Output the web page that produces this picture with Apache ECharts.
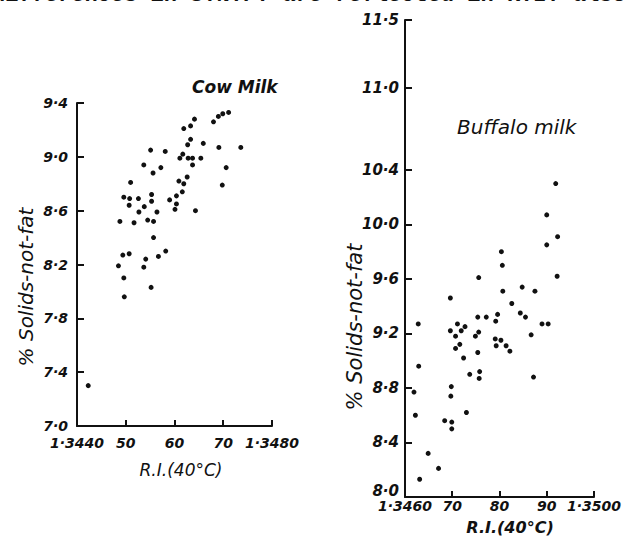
<!DOCTYPE html>
<html>
<head>
<meta charset="utf-8">
<script src="https://cdn.jsdelivr.net/npm/echarts@6/dist/echarts.min.js"></script>
<style>
html,body{margin:0;padding:0;background:#fff;}
#c{width:624px;height:537px;}
</style>
</head>
<body>
<div id="c"></div>
<script>
// ---- Cow milk data (R.I. at 40°C vs % solids-not-fat)
const cowRI = [1.34641,1.34633,1.34619,1.34680,1.34690,1.34699,1.34711,1.34633,1.34627,1.34659,
  1.34691,1.34736,1.34551,1.34581,1.34617,1.34611,1.34628,1.34637,1.34654,1.34637,
  1.34537,1.34572,1.34556,1.34626,1.34609,1.34619,1.34706,1.34698,1.34510,1.34496,
  1.34508,1.34526,1.34553,1.34616,1.34604,1.34590,1.34604,1.34601,1.34553,1.34538,
  1.34507,1.34527,1.34564,1.34643,1.34488,1.34517,1.34545,1.34557,1.34557,1.34494,
  1.34507,1.34582,1.34567,1.34541,1.34537,1.34485,1.34496,1.34552,1.34497,1.34423];
const cowSNF = [9.28,9.23,9.21,9.26,9.30,9.32,9.33,9.13,9.09,9.10,
  9.07,9.07,9.05,9.04,9.02,8.99,8.99,8.99,8.99,8.94,
  8.94,8.92,8.88,8.85,8.82,8.80,8.92,8.79,8.81,8.70,
  8.69,8.69,8.72,8.74,8.71,8.68,8.65,8.61,8.67,8.63,
  8.64,8.59,8.59,8.60,8.52,8.51,8.53,8.52,8.40,8.27,
  8.28,8.30,8.26,8.24,8.18,8.19,8.10,8.03,7.96,7.30];

// ---- Buffalo milk data
const bufRI = [1.34919,1.34900,1.34923,1.34900,1.34804,1.34806,1.34756,1.34922,1.34696,1.34807,
  1.34848,1.34875,1.34826,1.34844,1.34855,1.34796,1.34792,1.34754,1.34772,1.34890,
  1.34903,1.34628,1.34696,1.34711,1.34719,1.34727,1.34707,1.34749,1.34756,1.34867,
  1.34791,1.34803,1.34793,1.34814,1.34822,1.34716,1.34707,1.34724,1.34754,1.34758,
  1.34757,1.34737,1.34872,1.34629,1.34619,1.34698,1.34697,1.34622,1.34730,1.34684,
  1.34699,1.34699,1.34649,1.34671,1.34631];
const bufSNF = [10.30,10.07,9.91,9.85,9.80,9.70,9.61,9.62,9.46,9.51,
  9.54,9.51,9.42,9.35,9.32,9.34,9.29,9.32,9.32,9.27,
  9.27,9.27,9.22,9.27,9.22,9.25,9.18,9.18,9.21,9.19,
  9.16,9.15,9.11,9.11,9.07,9.12,9.09,9.02,9.06,8.92,
  8.87,8.90,8.88,8.96,8.77,8.81,8.74,8.60,8.62,8.56,
  8.55,8.50,8.32,8.21,8.13];

// ---- Tick values and labels
const cowXTicks = [1.344,1.345,1.346,1.347,1.348];
const cowXLabels = ['1·3440','50','60','70','1·3480'];
const cowYTicks = [7.0,7.4,7.8,8.2,8.6,9.0,9.4];
const cowYLabels = ['7·0','7·4','7·8','8·2','8·6','9·0','9·4'];
const bufXTicks = [1.346,1.347,1.348,1.349,1.350];
const bufXLabels = ['1·3460','70','80','90','1·3500'];
const bufYTicks = [8.0,8.4,8.8,9.2,9.6,10.0,10.4,11.0,11.5];
const bufYLabels = ['8·0','8·4','8·8','9·2','9·6','10·0','10·4','11·0','11·5'];

function fmt(ticks, labels, liftFirst){
  return function(v){
    for (let i=0;i<ticks.length;i++){
      if (Math.abs(v-ticks[i])<1e-7) return (i===0 && liftFirst) ? '{lo|'+labels[i]+'}' : labels[i];
    }
    return '';
  };
}
function zip(a,b){ return a.map((v,i)=>[v,b[i]]); }

const ink = '#111';
const axisFont = {fontFamily:'DejaVu Sans', fontStyle:'italic', fontWeight:'bold', color:ink};

function xAxisDef(idx, min, max, ticks, labels, margin, fs){
  return {
    type:'value', gridIndex:idx, min:min, max:max,
    axisLine:{show:true, onZero:false, lineStyle:{color:ink, width:2}},
    axisTick:{show:true, inside:true, length:6, customValues:ticks, lineStyle:{color:ink, width:2}},
    axisLabel:Object.assign({customValues:ticks, formatter:fmt(ticks,labels,false), margin:margin, fontSize:fs, hideOverlap:false}, axisFont),
    splitLine:{show:false}
  };
}
function yAxisDef(idx, min, max, ticks, labels, margin, fs, lift){
  return {
    type:'value', gridIndex:idx, min:min, max:max,
    axisLine:{show:true, onZero:false, lineStyle:{color:ink, width:2}},
    axisTick:{show:true, inside:true, length:7, customValues:ticks, lineStyle:{color:ink, width:2}},
    axisLabel:Object.assign({customValues:ticks, formatter:fmt(ticks,labels,lift), margin:margin, fontSize:fs, hideOverlap:false,
      rich:{lo:Object.assign({fontSize:fs, padding:[0,0,lift||0,0]}, axisFont)}}, axisFont),
    splitLine:{show:false}
  };
}

const chart = echarts.init(document.getElementById('c'), null, {renderer:'svg'});
chart.setOption({
  backgroundColor:'#fff',
  animation:false,
  grid:[
    {left:77, top:103, width:195, height:323},
    {left:405, top:20, width:191, height:477}
  ],
  xAxis:[
    xAxisDef(0, 1.344, 1.348, cowXTicks, cowXLabels, 10, 14),
    xAxisDef(1, 1.346, 1.350, bufXTicks, bufXLabels, 2, 14)
  ],
  yAxis:[
    yAxisDef(0, 7.0, 9.4, cowYTicks, cowYLabels, 9, 14, 0),
    yAxisDef(1, 8.0, 11.5, bufYTicks, bufYLabels, 6, 15, 12)
  ],
  series:[
    {type:'scatter', name:'Cow Milk', xAxisIndex:0, yAxisIndex:0, symbolSize:5,
     itemStyle:{color:ink, opacity:1}, data:zip(cowRI,cowSNF)},
    {type:'scatter', name:'Buffalo milk', xAxisIndex:1, yAxisIndex:1, symbolSize:5,
     itemStyle:{color:ink, opacity:1}, data:zip(bufRI,bufSNF)}
  ],
  graphic:[
    {type:'text', left:-8, top:-16, style:{text:'differences in S.N.F. are reflected in R.I. also',
      font:'bold 22px "Liberation Mono"', fill:ink}},
    {type:'text', left:192, top:78, style:{text:'Cow Milk', font:'italic bold 17px "DejaVu Sans"', fill:ink}},
    {type:'text', left:457, top:117, style:{text:'Buffalo milk', font:'italic 20px "DejaVu Sans"', fill:ink}},
    {type:'text', x:181, y:470, style:{text:'R.I.(40°C)', font:'italic 17px "DejaVu Sans"', fill:ink, align:'center', verticalAlign:'middle'}},
    {type:'text', x:510, y:527, style:{text:'R.I.(40°C)', font:'italic bold 16px "DejaVu Sans"', fill:ink, align:'center', verticalAlign:'middle'}},
    {type:'text', x:26, y:287, rotation:Math.PI/2, style:{text:'% Solids-not-fat', font:'italic 20px "DejaVu Sans"', fill:ink, align:'center', verticalAlign:'middle'}},
    {type:'text', x:355, y:327, rotation:Math.PI/2, style:{text:'% Solids-not-fat', font:'italic 21px "DejaVu Sans"', fill:ink, align:'center', verticalAlign:'middle'}}
  ]
});
</script>
</body>
</html>
